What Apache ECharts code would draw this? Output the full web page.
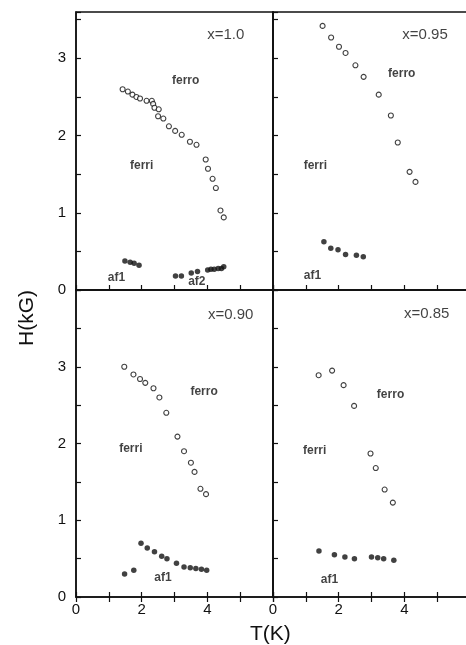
<!DOCTYPE html>
<html>
<head>
<meta charset="utf-8">
<script src="https://cdn.jsdelivr.net/npm/echarts@6/dist/echarts.min.js"></script>
<style>
html,body{margin:0;padding:0;background:#fff;}
#chart{width:466px;height:645px;}
</style>
</head>
<body>
<div id="chart"></div>
<script>
// panel order: top-left x=1.0, top-right x=0.95, bottom-left x=0.90, bottom-right x=0.85

// open circles: ferri / ferro boundary  [T(K), H(kG)]
var ferro_10 = [[1.42,2.60],[1.58,2.57],[1.72,2.53],[1.84,2.50],[1.95,2.48],[2.15,2.45],[2.31,2.45],[2.35,2.41],[2.39,2.36],[2.52,2.34],[2.50,2.25],[2.66,2.22],[2.83,2.12],[3.02,2.06],[3.22,2.01],[3.47,1.92],[3.67,1.88],[3.95,1.69],[4.02,1.57],[4.16,1.44],[4.26,1.32],[4.40,1.03],[4.50,0.94]];
var ferro_095 = [[1.51,3.42],[1.77,3.27],[2.01,3.15],[2.21,3.07],[2.51,2.91],[2.76,2.76],[3.22,2.53],[3.59,2.26],[3.80,1.91],[4.16,1.53],[4.34,1.40]];
var ferro_090 = [[1.47,3.00],[1.75,2.90],[1.95,2.84],[2.11,2.79],[2.36,2.72],[2.54,2.60],[2.75,2.40],[3.09,2.09],[3.29,1.90],[3.50,1.75],[3.61,1.63],[3.79,1.41],[3.96,1.34]];
var ferro_085 = [[1.39,2.89],[1.80,2.95],[2.15,2.76],[2.47,2.49],[2.97,1.87],[3.13,1.68],[3.40,1.40],[3.65,1.23]];

// filled dots: antiferro boundaries
var af_10 = [[1.49,0.375],[1.65,0.36],[1.77,0.345],[1.92,0.32],[3.03,0.18],[3.21,0.18],[3.51,0.22],[3.70,0.24],[4.01,0.26],[4.11,0.27],[4.21,0.27],[4.33,0.28],[4.43,0.28],[4.50,0.30]];
var af_095 = [[1.55,0.625],[1.76,0.54],[1.98,0.52],[2.21,0.46],[2.54,0.45],[2.75,0.43]];
var af_090 = [[1.48,0.30],[1.76,0.35],[1.98,0.70],[2.17,0.64],[2.39,0.59],[2.61,0.53],[2.77,0.50],[3.06,0.44],[3.29,0.39],[3.48,0.38],[3.65,0.37],[3.82,0.36],[3.98,0.35]];
var af_085 = [[1.40,0.60],[1.87,0.55],[2.19,0.52],[2.48,0.50],[3.00,0.52],[3.19,0.51],[3.37,0.50],[3.68,0.48]];

// phase labels [T, H, text]
var notes_10 = [[4.56,3.30,'x=1.0'],[3.34,2.71,'ferro'],[2.00,1.61,'ferri'],[1.23,0.16,'af1'],[3.68,0.11,'af2']];
var notes_095 = [[4.63,3.30,'x=0.95'],[3.92,2.80,'ferro'],[1.29,1.61,'ferri'],[1.20,0.18,'af1']];
var notes_090 = [[4.71,3.67,'x=0.90'],[3.90,2.67,'ferro'],[1.67,1.93,'ferri'],[2.65,0.25,'af1']];
var notes_085 = [[4.68,3.69,'x=0.85'],[3.58,2.64,'ferro'],[1.27,1.90,'ferri'],[1.72,0.22,'af1']];

var yMaxTop = 3.6, yMaxBottom = 4.0;
var xTicksShown = [0, 2, 4];
var yTicksShown = [0, 1, 2, 3];

var ferroSets = [ferro_10, ferro_095, ferro_090, ferro_085];
var afSets = [af_10, af_095, af_090, af_085];
var noteSets = [notes_10, notes_095, notes_090, notes_085];

var FONT = 'Liberation Sans';
var grids = [
  {left: 76, top: 12, width: 197, height: 278},
  {left: 273, top: 12, width: 197, height: 278},
  {left: 76, top: 290, width: 197, height: 307},
  {left: 273, top: 290, width: 197, height: 307}
];

var xAxes = [], yAxes = [], series = [];
grids.forEach(function(g, i){
  var bottomRow = i >= 2, leftCol = (i % 2 === 0);
  g.show = true; g.borderColor = '#111'; g.borderWidth = 1.5;
  g.containLabel = false; g.outerBoundsMode = 'none';
  xAxes.push({
    gridIndex: i, type: 'value', min: 0, max: 6, interval: 1,
    axisLine: {show: true, onZero: false, lineStyle: {color: '#111', width: 1.5}},
    axisTick: {show: true, inside: true, length: 5, lineStyle: {color: '#111', width: 1.2}},
    splitLine: {show: false},
    axisLabel: {
      show: bottomRow, margin: 5, color: '#111', fontFamily: FONT, fontSize: 15,
      formatter: function(v){ return xTicksShown.indexOf(v) >= 0 ? String(v) : ''; }
    }
  });
  yAxes.push({
    gridIndex: i, type: 'value', min: 0, max: bottomRow ? yMaxBottom : yMaxTop, interval: 0.5,
    axisLine: {show: true, onZero: false, lineStyle: {color: '#111', width: 1.5}},
    axisTick: {show: true, inside: true, length: 5, lineStyle: {color: '#111', width: 1.2}},
    splitLine: {show: false},
    axisLabel: {
      show: leftCol, margin: 10, color: '#111', fontFamily: FONT, fontSize: 15,
      formatter: function(v){ return yTicksShown.indexOf(v) >= 0 ? String(v) : ''; }
    }
  });
});
// top tick rows on the lower panels
[2, 3].forEach(function(i){
  xAxes.push({
    gridIndex: i, type: 'value', position: 'top', min: 0, max: 6, interval: 1,
    axisLine: {show: false},
    axisTick: {show: true, inside: true, length: 5, lineStyle: {color: '#111', width: 1.2}},
    splitLine: {show: false}, axisLabel: {show: false}
  });
});

for (var i = 0; i < 4; i++) {
  series.push({
    type: 'scatter', xAxisIndex: i, yAxisIndex: i, data: ferroSets[i],
    symbol: 'circle', symbolSize: 5,
    itemStyle: {color: '#fff', borderColor: '#111', borderWidth: 1.1}
  });
  series.push({
    type: 'scatter', xAxisIndex: i, yAxisIndex: i, data: afSets[i],
    symbol: 'circle', symbolSize: 5.5,
    itemStyle: {color: '#111', borderColor: '#111', borderWidth: 0}
  });
  series.push({
    type: 'scatter', xAxisIndex: i, yAxisIndex: i, symbolSize: 0, silent: true,
    data: noteSets[i].map(function(n){
      var big = n[2].indexOf('x=') === 0;
      return {
        value: [n[0], n[1]], name: n[2],
        label: {fontSize: big ? 15 : 12, fontWeight: big ? 'normal' : 'bold'}
      };
    }),
    label: {
      show: true, position: 'inside', color: '#111', fontFamily: FONT,
      formatter: function(p){ return p.name; }
    },
    itemStyle: {color: 'transparent'}
  });
}

var chart = echarts.init(document.getElementById('chart'), null, {renderer: 'canvas'});
chart.setOption({
  backgroundColor: '#fff',
  animation: false,
  grid: grids,
  xAxis: xAxes,
  yAxis: yAxes,
  series: series,
  graphic: [
    {type: 'text', left: 250, top: 624, style: {text: 'T(K)', fontSize: 21, fontFamily: FONT, fill: '#111'}},
    {type: 'text', x: 17, y: 346, rotation: Math.PI / 2, style: {text: 'H(kG)', fontSize: 21, fontFamily: FONT, fill: '#111'}}
  ]
});
</script>
</body>
</html>
